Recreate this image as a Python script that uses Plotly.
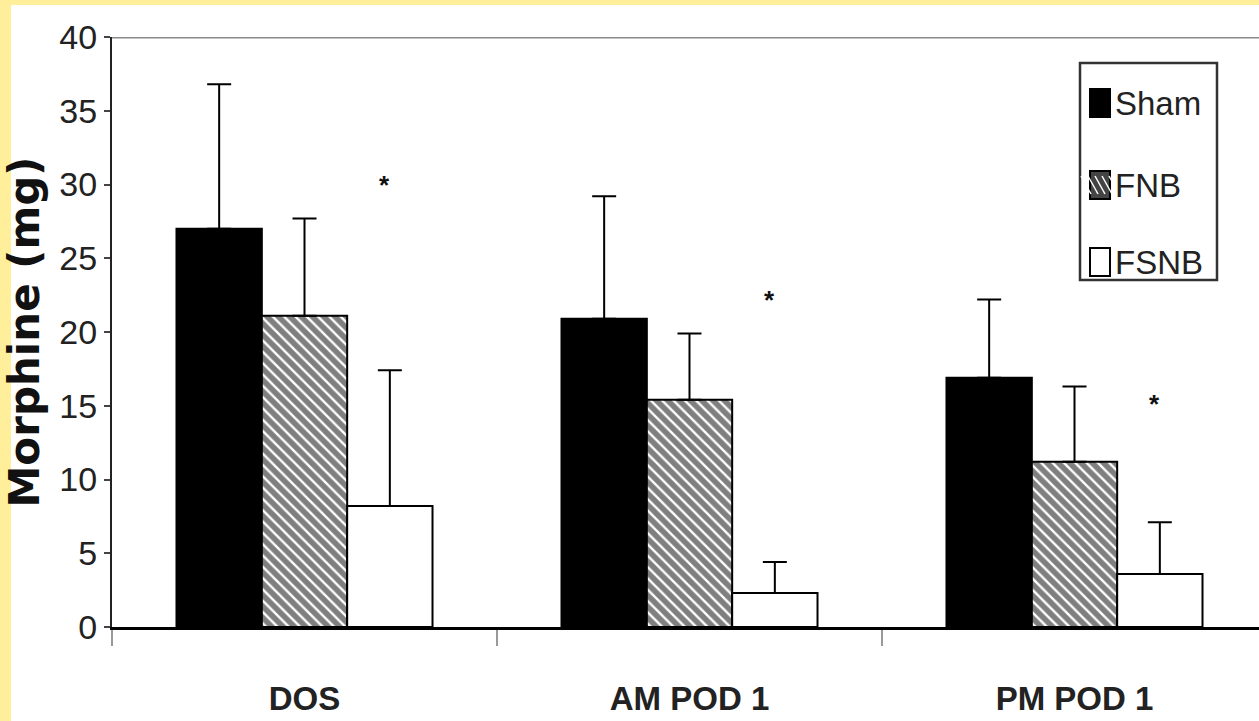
import plotly.graph_objects as go

categories = ["DOS", "AM POD 1", "PM POD 1"]
series_names = ["Sham", "FNB", "FSNB"]
sham_mean = [27.0, 20.9, 16.9]
sham_err = [9.8, 8.3, 5.3]
fnb_mean = [21.1, 15.4, 11.2]
fnb_err = [6.6, 4.5, 5.1]
fsnb_mean = [8.2, 2.3, 3.6]
fsnb_err = [9.2, 2.1, 3.5]
star_y = [30.0, 22.2, 15.1]
y_ticks = [0, 5, 10, 15, 20, 25, 30, 35, 40]

W, H = 1259, 721
L, R, T, B = 112, 0, 37, 94
pw, ph = W - L - R, H - T - B

def px(x):
    return (x - L) / pw

def py(y):
    return (H - B - y) / ph

fig = go.Figure()
err_style = dict(type="data", symmetric=False, color="black", thickness=2, width=12)
zeros = [0, 0, 0]

fig.add_trace(go.Bar(
    name=series_names[0], x=categories, y=sham_mean,
    marker=dict(color="black", line=dict(color="black", width=2)),
    error_y=dict(array=sham_err, arrayminus=zeros, **err_style),
))
fig.add_trace(go.Bar(
    name=series_names[1], x=categories, y=fnb_mean,
    marker=dict(color="white", line=dict(color="black", width=2),
                pattern=dict(shape="\\", fgcolor="black", bgcolor="white",
                             size=8, solidity=0.7, fillmode="overlay")),
    error_y=dict(array=fnb_err, arrayminus=zeros, **err_style),
))
fig.add_trace(go.Bar(
    name=series_names[2], x=categories, y=fsnb_mean,
    marker=dict(color="white", line=dict(color="black", width=2)),
    error_y=dict(array=fsnb_err, arrayminus=zeros, **err_style),
))

# significance asterisks above FSNB bars
for c, sy in zip(categories, star_y):
    fig.add_annotation(x=c, y=sy, xshift=80, text="<b>*</b>", showarrow=False,
                       font=dict(size=26, color="#111", family="Liberation Sans"))

shapes = []
yellow = "#FFEE9A"
shapes.append(dict(type="rect", xref="paper", yref="paper",
                   x0=px(0), x1=px(11), y0=py(H), y1=py(0),
                   fillcolor=yellow, line=dict(width=0), layer="above"))
shapes.append(dict(type="rect", xref="paper", yref="paper",
                   x0=px(0), x1=px(W), y0=py(5), y1=py(0),
                   fillcolor=yellow, line=dict(width=0), layer="above"))
shapes.append(dict(type="line", xref="paper", yref="y", x0=0, x1=1, y0=40, y1=40,
                   line=dict(color="#8a8a8a", width=3), layer="below"))

# manual legend
lx0, lx1, ly0, ly1 = 1080, 1217, 63, 280
shapes.append(dict(type="rect", xref="paper", yref="paper",
                   x0=px(lx0), x1=px(lx1), y0=py(ly1), y1=py(ly0),
                   fillcolor="white", line=dict(color="#333", width=2.5)))
item_y = [103, 185, 262]
sw, sh = 20, 28
sx0 = 1090
for i, (name, iy) in enumerate(zip(series_names, item_y)):
    fill = "black" if i == 0 else ("#444" if i == 1 else "white")
    shapes.append(dict(type="rect", xref="paper", yref="paper",
                       x0=px(sx0), x1=px(sx0 + sw), y0=py(iy + sh / 2), y1=py(iy - sh / 2),
                       fillcolor=fill, line=dict(color="black", width=2)))
    if i == 1:
        for k in range(-2, 3):
            xa = sx0 + 10 + k * 7
            shapes.append(dict(type="line", xref="paper", yref="paper",
                               x0=px(xa - 5), x1=px(xa + 5),
                               y0=py(iy - 9), y1=py(iy + 9),
                               line=dict(color="white", width=1.5)))
    fig.add_annotation(xref="paper", yref="paper", x=px(sx0 + sw + 3), y=py(iy),
                       xanchor="left", yanchor="middle", showarrow=False, text=name,
                       font=dict(size=33, color="#222",
                                 family="Liberation Sans Narrow, Arial Narrow, Liberation Sans"))

fig.update_layout(
    width=W, height=H,
    margin=dict(l=L, r=R, t=T, b=B, pad=0),
    paper_bgcolor="white", plot_bgcolor="white",
    barmode="group", bargap=0.335, bargroupgap=0,
    showlegend=False,
    shapes=shapes,
    xaxis=dict(
        type="category", range=[-0.5, 2.5 - 8 / 385],
        showline=True, linecolor="black", linewidth=3,
        ticks="outside", tickson="boundaries", ticklen=16, tickwidth=2, tickcolor="#999",
        ticklabelstandoff=40,
        tickfont=dict(size=33, color="#222", family="Liberation Sans", weight="bold"),
        showgrid=False, zeroline=False,
    ),
    yaxis=dict(
        range=[0, 40], tickvals=y_ticks,
        showline=True, linecolor="#222", linewidth=2,
        ticks="outside", ticklen=6, tickwidth=2, tickcolor="#444",
        tickfont=dict(size=34, color="#222",
                      family="Liberation Sans Narrow, Arial Narrow, Liberation Sans"),
        showgrid=False, zeroline=False,
        title=dict(text="Morphine (mg)", standoff=10,
                   font=dict(size=42, color="#111", family="DejaVu Sans", weight="bold")),
    ),
)

fig.write_html("out.html", config={"displayModeBar": False},
               post_script="document.body.style.margin='0';document.body.style.overflow='hidden';")
